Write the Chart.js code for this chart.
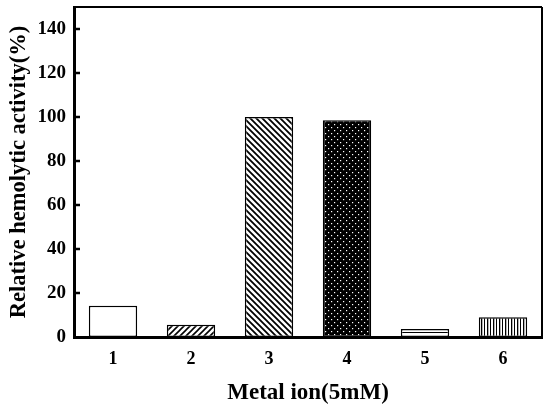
<!DOCTYPE html>
<html>
<head>
<meta charset="utf-8">
<script src="https://cdn.jsdelivr.net/npm/chart.js@4.4.0/dist/chart.umd.min.js"></script>
<style>
  html, body { margin: 0; padding: 0; background: #fff; }
  #wrap { width: 545px; height: 411px; }
</style>
</head>
<body>
<div id="wrap"><canvas id="grafico" width="545" height="411"></canvas></div>
<script>
const categorias = ["1", "2", "3", "4", "5", "6"];
const actividad = [14.2, 5.6, 100, 98.5, 3.6, 9];
const ticksY = [0, 20, 40, 60, 80, 100, 120, 140];

// patrones de relleno tipo tramado
function patron(tipo) {
  const c = document.createElement("canvas");
  c.width = 6; c.height = 6;
  const g = c.getContext("2d");
  g.fillStyle = "#fff";
  g.fillRect(0, 0, 6, 6);
  g.strokeStyle = "#000";
  g.fillStyle = "#000";
  switch (tipo) {
    case "blanco":
      break;
    case "diag1":
      g.lineWidth = 1.6;
      g.beginPath();
      g.moveTo(0, 6); g.lineTo(6, 0);
      g.moveTo(-3, 3); g.lineTo(3, -3);
      g.moveTo(3, 9); g.lineTo(9, 3);
      g.stroke();
      break;
    case "diag2":
      g.lineWidth = 1.8;
      g.beginPath();
      g.moveTo(0, 0); g.lineTo(6, 6);
      g.moveTo(-3, 3); g.lineTo(3, 9);
      g.moveTo(3, -3); g.lineTo(9, 3);
      g.stroke();
      break;
    case "puntos":
      g.fillRect(0, 0, 6, 6);
      g.fillStyle = "#fff";
      g.fillRect(1, 1, 1.2, 1.2);
      g.fillRect(4, 4, 1.2, 1.2);
      break;
    case "horiz":
      g.fillRect(0, 2, 6, 1);
      break;
    case "vert":
      g.fillRect(1, 0, 1.3, 6);
      g.fillRect(4, 0, 1, 6);
      break;
  }
  return g.createPattern(c, "repeat");
}

const rellenos = ["blanco", "diag1", "diag2", "puntos", "horiz", "vert"].map(patron);

// marcas internas del eje y y marco superior/derecho
const marco = {
  id: "marco",
  afterDraw(chart) {
    const { ctx, chartArea: a, scales } = chart;
    ctx.save();
    ctx.strokeStyle = "#000";
    ctx.lineWidth = 2;
    ctx.beginPath();
    ctx.moveTo(a.left, a.top); ctx.lineTo(a.right, a.top);
    ctx.moveTo(a.right, a.top); ctx.lineTo(a.right, a.bottom);
    ctx.stroke();
    ctx.lineWidth = 2.5;
    ticksY.forEach(v => {
      const y = scales.y.getPixelForValue(v);
      if (v === 0) return;
      ctx.beginPath();
      ctx.moveTo(a.left, y); ctx.lineTo(a.left + 6, y);
      ctx.stroke();
    });
    ctx.restore();
  }
};

const fuente = { family: "'Liberation Serif', 'Times New Roman', serif", weight: "bold" };

new Chart(document.getElementById("grafico"), {
  type: "bar",
  data: {
    labels: categorias,
    datasets: [{
      data: actividad,
      backgroundColor: rellenos,
      borderColor: "#000",
      borderWidth: 1.5,
      borderSkipped: false,
      barPercentage: 0.62,
      categoryPercentage: 1
    }]
  },
  options: {
    responsive: false,
    animation: false,
    layout: { padding: { top: 7, right: 3, left: 0, bottom: 0 } },
    plugins: { legend: { display: false }, tooltip: { enabled: false } },
    scales: {
      x: {
        grid: { display: false },
        border: { color: "#000", width: 3 },
        ticks: { color: "#000", font: { ...fuente, size: 18 }, padding: 4 },
        title: {
          display: true, text: "Metal ion(5mM)", color: "#000",
          font: { ...fuente, size: 23 }, padding: { top: 14 }
        },
        afterFit(s) { s.height = 74; s.paddingLeft = 0; s.paddingRight = 0; }
      },
      y: {
        min: 0, max: 150,
        afterBuildTicks(s) { s.ticks = ticksY.map(v => ({ value: v })); },
        grid: { display: false },
        border: { color: "#000", width: 3 },
        ticks: { color: "#000", font: { ...fuente, size: 19 }, padding: 0 },
        title: {
          display: true, text: "Relative hemolytic activity(%)", color: "#000",
          font: { ...fuente, size: 22.5 }, padding: { top: 6, bottom: 2 }
        },
        afterFit(s) { s.width = 74; s.paddingTop = 0; s.paddingBottom = 0; }
      }
    }
  },
  plugins: [marco]
});
</script>
</body>
</html>
